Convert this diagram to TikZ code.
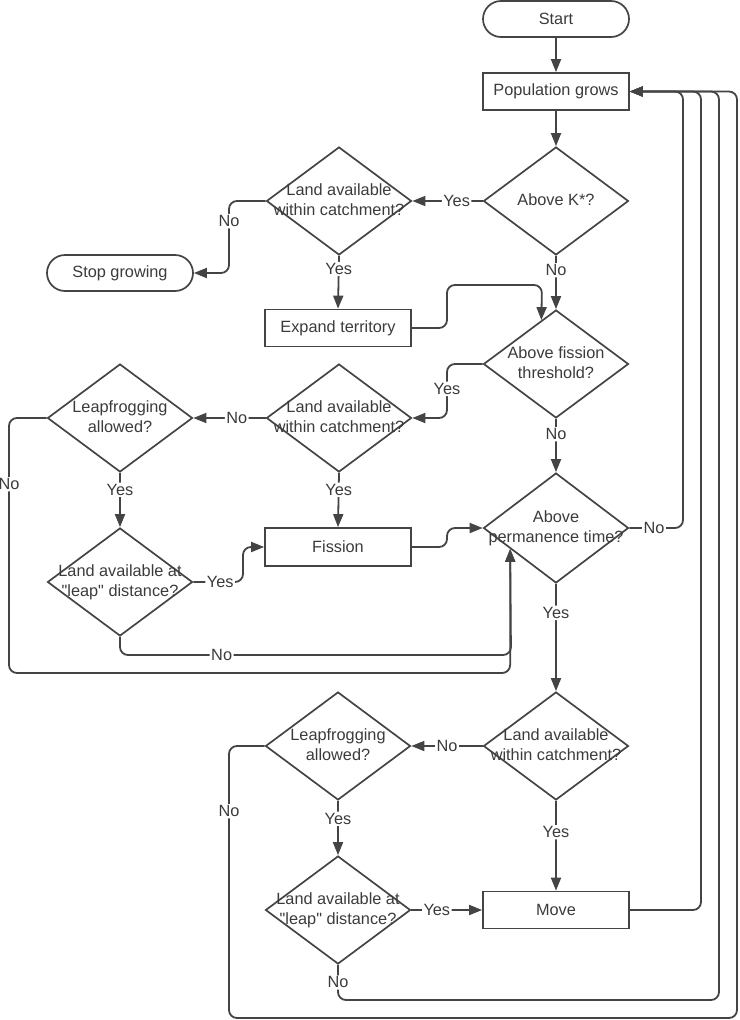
\documentclass[tikz,border=0pt]{standalone}
\usepackage{fontspec}
\setmainfont{Liberation Sans}
\usepackage{tikz}
\usetikzlibrary{shapes.geometric,arrows.meta}
\usetikzlibrary{calc}

\definecolor{linegray}{HTML}{444444}
\definecolor{textgray}{HTML}{3B3B3B}
\newcommand{\qtext}[1]{\makebox[0pt]{\begin{tabular}{@{}c@{}}#1\end{tabular}}}

\begin{document}
\begin{tikzpicture}[
    x=1pt, y=-1pt,
    every node/.style={font=\fontsize{16.3}{20}\selectfont, text=textgray},
    % Styles for the flowchart
    terminal/.style={rectangle, rounded corners=18pt, draw=linegray, line width=1.7pt, minimum width=146pt, minimum height=36pt},
    process/.style={rectangle, draw=linegray, line width=1.7pt, minimum width=146pt, minimum height=37pt},
    decision/.style={diamond, draw=linegray, line width=1.7pt, minimum width=145pt, minimum height=108pt, inner sep=0pt},
    flow/.style={draw=linegray, line width=1.8pt, rounded corners=8pt, -{Triangle[length=13pt, width=10pt]}},
    lbl/.style={fill=white, inner sep=1.5pt}
]
    \useasboundingbox (0,0) rectangle (739,1020);

    % =========================================================================
    % 1. MAIN COLUMN
    % =========================================================================
    \node[terminal] (start) at (556,19) {Start};
    \node[process] (pop) at (556,91.5) {Population grows};
    \node[decision] (abovek) at (556,201) {\qtext{Above K*?}};
    \node[decision] (fiss) at (556,364) {\qtext{Above fission\\threshold?}};
    \node[decision, minimum height=110pt] (perm) at (556,528) {\qtext{Above\\permanence time?}};
    \node[decision] (land3) at (556,746) {\qtext{Land available\\within catchment?}};
    \node[process] (move) at (556,910) {Move};

    % Entry points on the diamond edges
    \coordinate (fissin) at ($(fiss.west)!0.8!(fiss.north)$);
    \coordinate (permin) at ($(perm.west)!0.375!(perm.south)$);

    % =========================================================================
    % 2. GROWTH BRANCH
    % =========================================================================
    \node[decision] (land1) at (339,201) {\qtext{Land available\\within catchment?}};
    \node[terminal] (stop) at (120,273) {Stop growing};
    \node[process] (expand) at (338,328) {Expand territory};

    % =========================================================================
    % 3. FISSION BRANCH
    % =========================================================================
    \node[decision] (land2) at (339,418) {\qtext{Land available\\within catchment?}};
    \node[decision] (lf1) at (120,418) {\qtext{Leapfrogging\\allowed?}};
    \node[decision] (leap1) at (120,582) {\qtext{Land available at\\\textquotedbl leap\textquotedbl{} distance?}};
    \node[process, minimum height=38pt] (fission) at (338,547) {Fission};

    % =========================================================================
    % 4. MOVING BRANCH
    % =========================================================================
    \node[decision] (lf2) at (338,746) {\qtext{Leapfrogging\\allowed?}};
    \node[decision] (leap2) at (338,910) {\qtext{Land available at\\\textquotedbl leap\textquotedbl{} distance?}};

    % =========================================================================
    % 5. CONNECTORS
    % =========================================================================
    \draw[flow] (start) -- (pop);
    \draw[flow] (pop) -- (abovek);
    \draw[flow] (abovek.west) -- node[lbl, pos=0.37] (kyes) {Yes} (land1.east);
    \draw[flow] (abovek.south) -- node[lbl, pos=0.27] (kno) {No} (fiss.north);
    \draw[flow] (land1.west) -- (229,201) -- node[lbl, pos=0.28] (l1no) {No} (229,273) -- (stop.east);
    \draw[flow] (land1.south) -- node[lbl, pos=0.25] (l1yes) {Yes} (expand.north);
    \draw[flow] (expand.east) -- (447,328) -- (447,285) -- (542,285) -- (fissin);

    \draw[flow] (fiss.west) -- (447,364) -- node[lbl, pos=0.46] (fyes) {Yes} (447,418) -- (land2.east);
    \draw[flow] (fiss.south) -- node[lbl, pos=0.29] (fno) {No} (perm.north);
    \draw[flow] (land2.west) -- node[lbl, pos=0.4] (l2no) {No} (lf1.east);
    \draw[flow] (land2.south) -- node[lbl, pos=0.31] (l2yes) {Yes} (fission.north);
    \draw[flow] (lf1.south) -- node[lbl, pos=0.31] (lf1yes) {Yes} (leap1.north);
    \draw[flow] (lf1.west) -- (9,418) -- node[lbl, pos=0.26] (lf1no) {No} (9,673) -| (permin);
    \draw[flow] (leap1.east) -- node[lbl, pos=0.54] (lp1yes) {Yes} (243,582) -- (243,547) -- (fission.west);
    \draw[flow] (leap1.south) -- (120,655) -- node[lbl, pos=0.26] (lp1no) {No} (511,655) -- (permin);
    \draw[flow] (fission.east) -- (447,547) -- (447,528) -- (perm.west);

    \draw[flow] (perm.east) -- node[lbl, pos=0.46] (pno) {No} (683,528) |- (pop.east);
    \draw[flow] (perm.south) -- node[lbl, pos=0.27] (pyes) {Yes} (land3.north);
    \draw[flow] (land3.west) -- node[lbl, pos=0.5] (l3no) {No} (lf2.east);
    \draw[flow] (land3.south) -- node[lbl, pos=0.35] (l3yes) {Yes} (move.north);
    \draw[flow] (lf2.south) -- node[lbl, pos=0.33] (lf2yes) {Yes} (leap2.north);
    \draw[flow] (leap2.east) -- node[lbl, pos=0.36] (lp2yes) {Yes} (move.west);

    % Loops back to the top
    \draw[flow] (move.east) -- (701,910) |- (pop.east);
    \draw[flow] (leap2.south) -- node[lbl, pos=0.5] (lp2no) {No} (338,1000) -- (719,1000) |- (pop.east);
    \draw[flow] (lf2.west) -- (229,746) -- node[lbl, pos=0.24] (lf2no) {No} (229,1018) -- (737,1018) |- (pop.east);

\end{tikzpicture}
\end{document}
